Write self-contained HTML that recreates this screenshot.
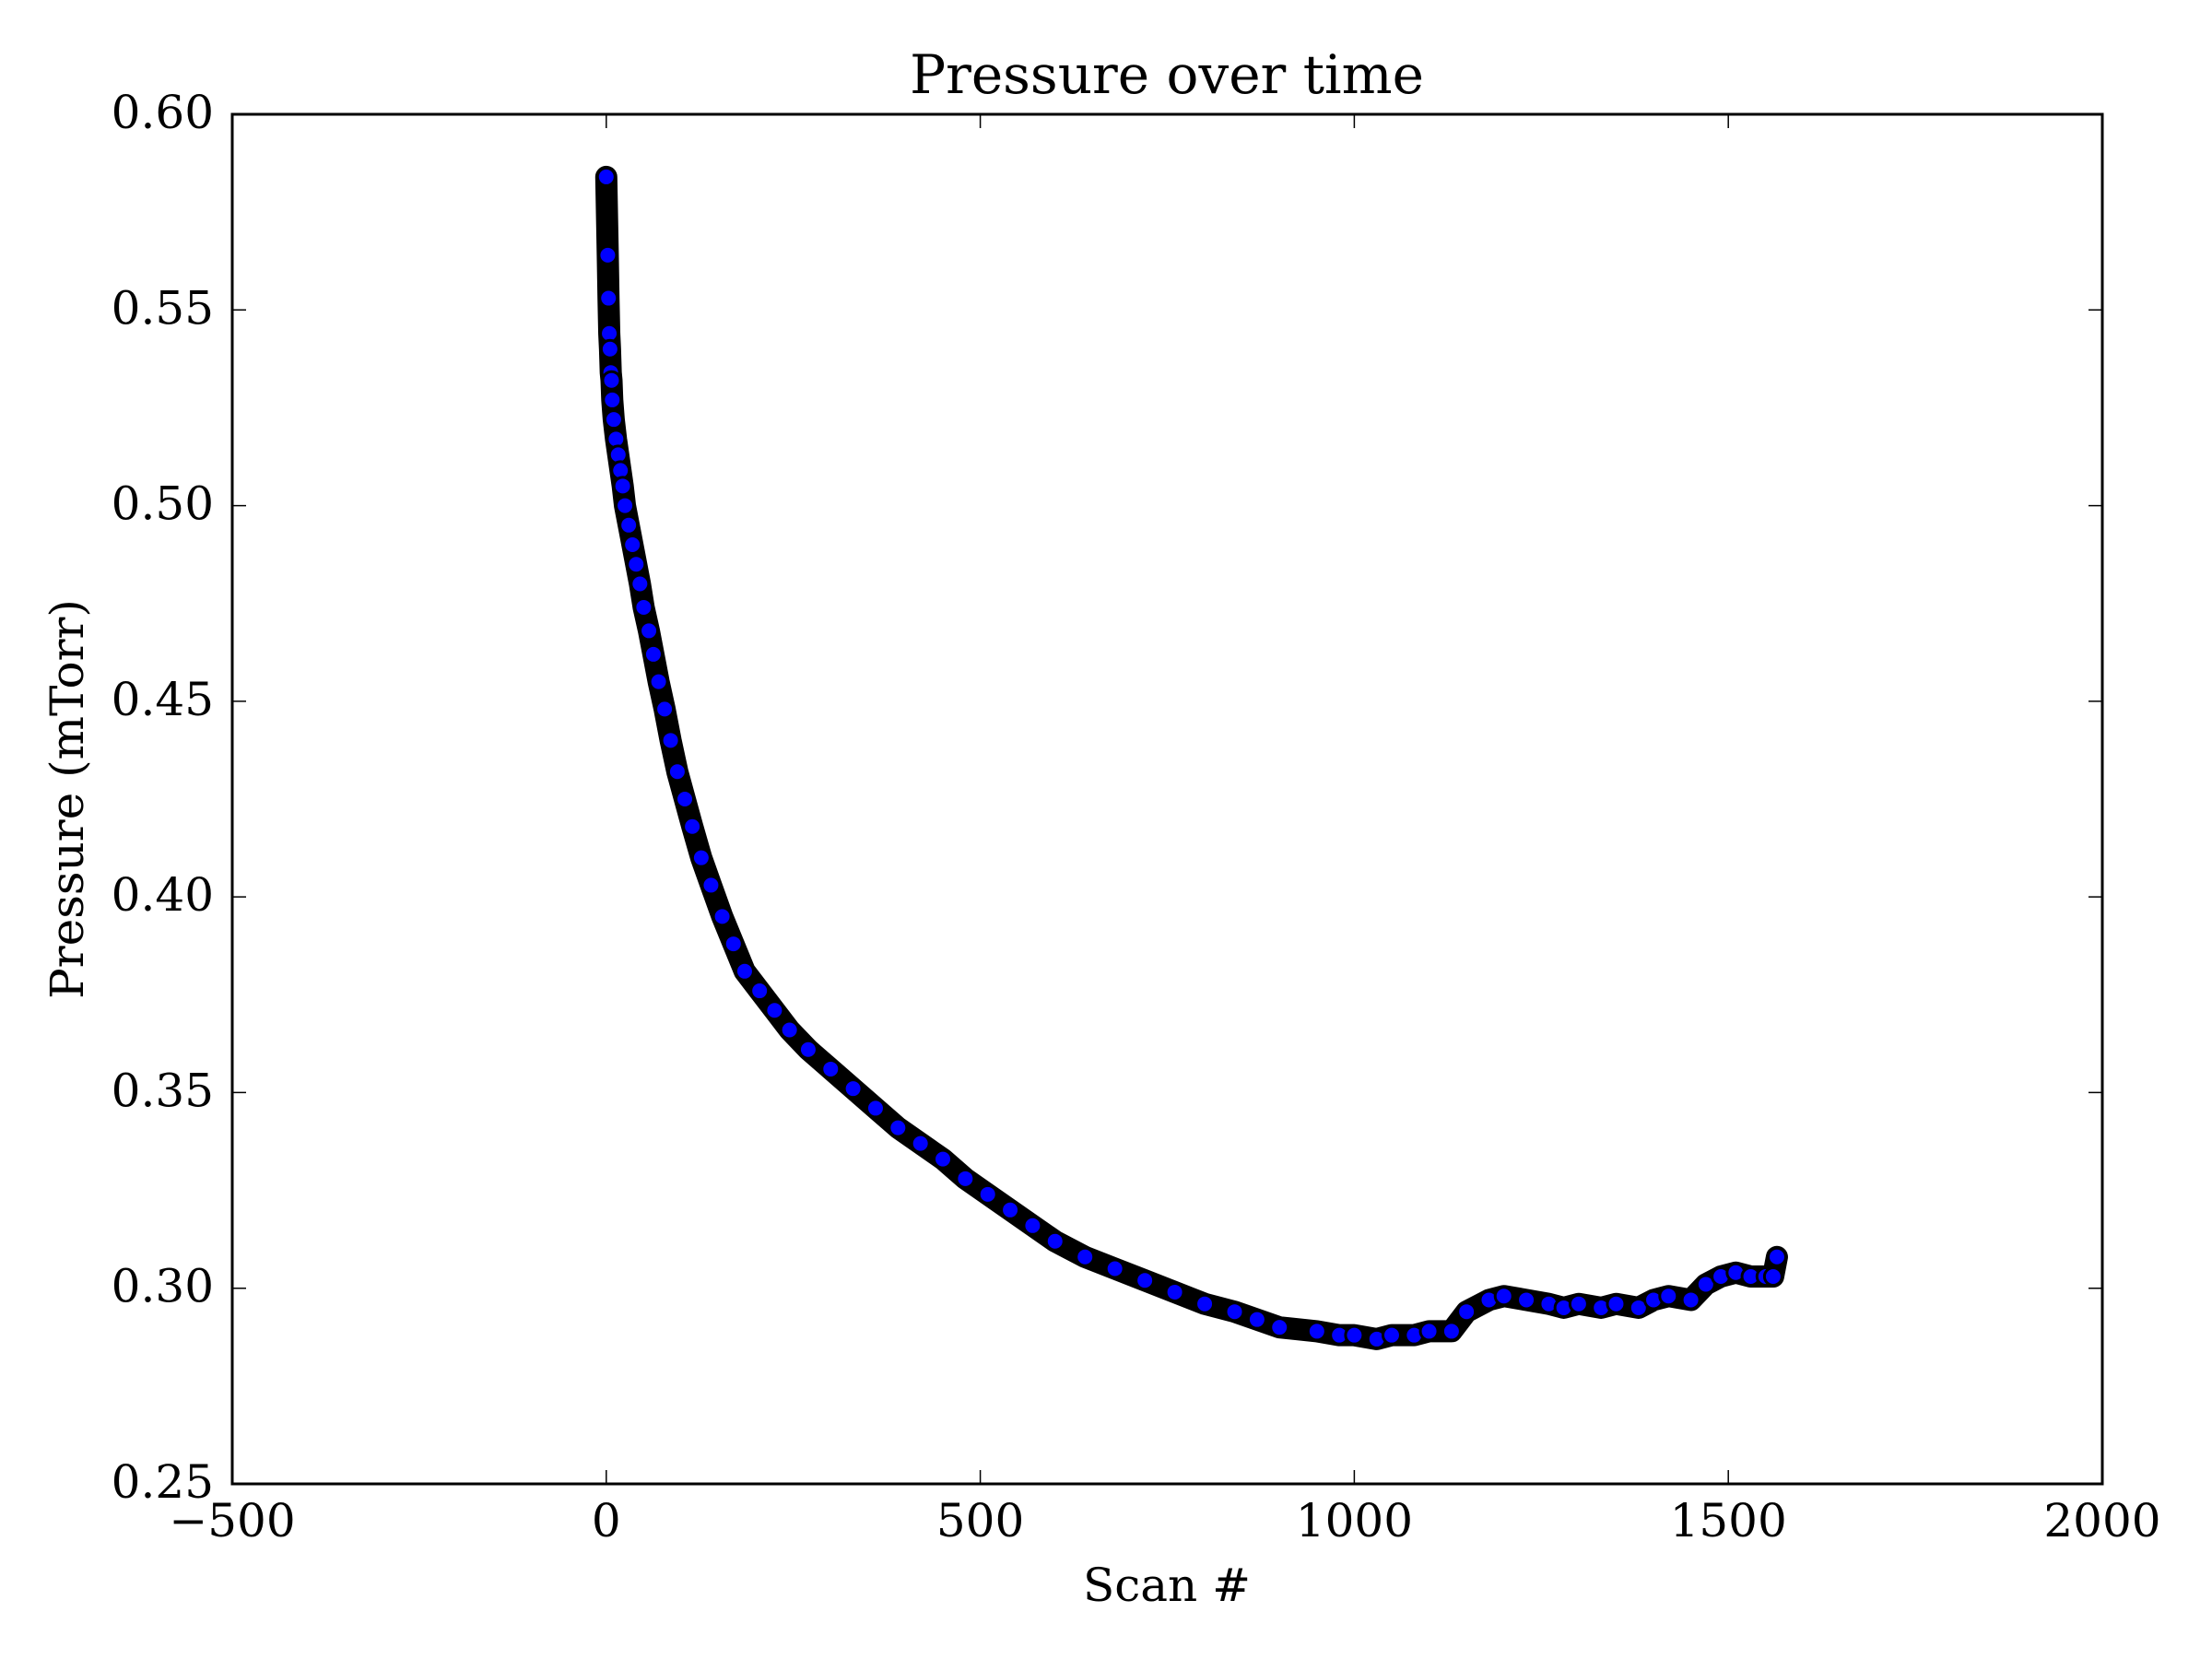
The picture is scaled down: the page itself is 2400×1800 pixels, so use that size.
<!DOCTYPE html>
<html><head><meta charset="utf-8"><style>
html,body{margin:0;padding:0;background:#fff;}
svg{display:block;font-family:"DejaVu Serif","Liberation Serif",serif;}
</style></head><body>
<svg id="chart" width="2400" height="1800" viewBox="0 0 2400 1800" xmlns="http://www.w3.org/2000/svg">
<rect x="0" y="0" width="2400" height="1800" fill="#fff"/>
<text x="1266" y="101" font-size="58" text-anchor="middle">Pressure over time</text>
<text x="1266" y="1737" font-size="50" text-anchor="middle">Scan #</text>
<text transform="translate(90,867) rotate(-90)" font-size="50" text-anchor="middle">Pressure (mTorr)</text>
<g id="marks"></g>
<g id="axes"></g>
</svg>
<script>
const xTicks = [-500, 0, 500, 1000, 1500, 2000];
const xTickLabels = ["\u2212500", "0", "500", "1000", "1500", "2000"];
const yTicks = [0.25, 0.30, 0.35, 0.40, 0.45, 0.50, 0.55, 0.60];
const yTickLabels = ["0.25", "0.30", "0.35", "0.40", "0.45", "0.50", "0.55", "0.60"];
const scans = [0,2,3,4,5,6,7,8,10,13,16,19,22,25,30,35,40,45,50,57,63,70,78,86,95,105,115,127,140,155,170,185,205,225,245,270,300,330,360,390,420,450,480,510,540,570,600,640,680,720,760,800,840,870,900,950,980,1000,1030,1050,1080,1100,1130,1150,1180,1200,1230,1260,1280,1300,1330,1350,1380,1400,1420,1450,1470,1490,1510,1530,1550,1560,1565];
const pressure = [0.584,0.564,0.553,0.544,0.540,0.534,0.532,0.527,0.522,0.517,0.513,0.509,0.505,0.500,0.495,0.490,0.485,0.480,0.474,0.468,0.462,0.455,0.448,0.440,0.432,0.425,0.418,0.410,0.403,0.395,0.388,0.381,0.376,0.371,0.366,0.361,0.356,0.351,0.346,0.341,0.337,0.333,0.328,0.324,0.320,0.316,0.312,0.308,0.305,0.302,0.299,0.296,0.294,0.292,0.290,0.289,0.288,0.288,0.287,0.288,0.288,0.289,0.289,0.294,0.297,0.298,0.297,0.296,0.295,0.296,0.295,0.296,0.295,0.297,0.298,0.297,0.301,0.303,0.304,0.303,0.303,0.303,0.308];

const L=252,R=2281,T=124,B=1610;
const xMin=-500,xMax=2000,yMin=0.25,yMax=0.60;
const xs=v=>L+(v-xMin)/(xMax-xMin)*(R-L);
const ys=v=>B-(v-yMin)/(yMax-yMin)*(B-T);
const NS="http://www.w3.org/2000/svg";
const marks=document.getElementById('marks');
const axes=document.getElementById('axes');
function mk(tag,attrs,parent){const e=document.createElementNS(NS,tag);for(const k in attrs)e.setAttribute(k,attrs[k]);parent.appendChild(e);return e;}

const band=mk('polyline',{points:scans.map((s,i)=>xs(s)+','+ys(pressure[i])).join(' '),fill:'none',stroke:'#000','stroke-width':24,'stroke-linejoin':'round','stroke-linecap':'round'},marks);


scans.forEach((s,i)=>{
  const c=mk('circle',{cx:xs(s),cy:ys(pressure[i]),r:9.5,fill:'#0000ff',stroke:'#000','stroke-width':3},marks);
  
  
});

const frame=mk('rect',{x:L,y:T,width:R-L,height:B-T,fill:'none',stroke:'#000','stroke-width':3},axes);


xTicks.forEach((t,i)=>{
  const x=xs(t);
  const tk=mk('path',{d:`M${x},${B}V${B-15}M${x},${T}V${T+15}`,stroke:'#000','stroke-width':1.5},axes);
  
  
  const lb=mk('text',{x:x,y:B+57,'font-size':50,'text-anchor':'middle'},axes);
  lb.textContent=xTickLabels[i];
  
  
});
yTicks.forEach((t,i)=>{
  const y=ys(t);
  const tk=mk('path',{d:`M${L},${y}H${L+15}M${R},${y}H${R-15}`,stroke:'#000','stroke-width':1.5},axes);
  
  
  const lb=mk('text',{x:L-20,y:y+15,'font-size':50,'text-anchor':'end'},axes);
  lb.textContent=yTickLabels[i];
  
  
});
</script>
</body></html>
